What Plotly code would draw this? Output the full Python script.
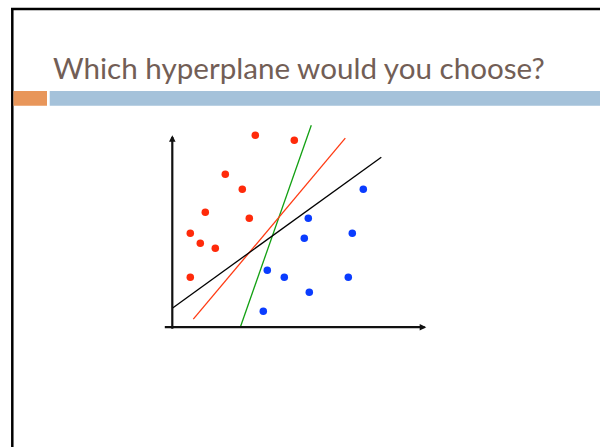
import plotly.graph_objects as go

# Two classes of training points
red_x = [4.15, 6.1, 2.65, 3.5, 1.65, 3.85, 0.9, 1.4, 2.15, 0.9]
red_y = [9.6, 9.35, 7.65, 6.9, 5.75, 5.45, 4.7, 4.2, 3.95, 2.5]
blue_x = [9.55, 6.8, 6.6, 9.0, 4.75, 5.6, 8.8, 6.85, 4.55]
blue_y = [6.9, 5.45, 4.45, 4.7, 2.85, 2.5, 2.5, 1.75, 0.8]

# Candidate separating hyperplanes (segment endpoints)
green_x = [3.4, 6.95]
green_y = [0.0, 10.1]
orange_x = [1.05, 8.65]
orange_y = [0.4, 9.45]
black_x = [0.0, 10.45]
black_y = [0.95, 8.5]

# Axis arrows: (tail, tip)
x_axis = [(-0.45, 0.0), (12.7, 0.0)]
y_axis = [(0.0, -0.15), (0.0, 9.6)]

W, H = 600, 447
ORIGIN_PX = (172.3, 327.2)
UNIT = 20.0  # pixels per data unit

TITLE = "Which hyperplane would you choose?"

fig = go.Figure()

for xs, ys, col in [(green_x, green_y, "#12a012"),
                    (orange_x, orange_y, "#ff3a12"),
                    (black_x, black_y, "#000000")]:
    fig.add_trace(go.Scatter(x=xs, y=ys, mode="lines",
                             line=dict(color=col, width=1.3),
                             hoverinfo="skip", showlegend=False))

fig.add_trace(go.Scatter(x=red_x, y=red_y, mode="markers",
                         marker=dict(color="#ff2a0a", size=7.5, line=dict(width=0)),
                         showlegend=False))
fig.add_trace(go.Scatter(x=blue_x, y=blue_y, mode="markers",
                         marker=dict(color="#0a3cff", size=7.5, line=dict(width=0)),
                         showlegend=False))

for (tx, ty), (hx, hy) in [x_axis, y_axis]:
    fig.add_annotation(x=hx, y=hy, ax=tx, ay=ty, xref="x", yref="y",
                       axref="x", ayref="y", showarrow=True, text="",
                       arrowhead=2, arrowsize=0.6, arrowwidth=2.2,
                       arrowcolor="#111111", standoff=0, startstandoff=0)


def px_x(p):
    return p / W


def px_y(p):
    return 1 - p / H


shapes = [
    # slide frame
    dict(type="line", x0=px_x(11), x1=px_x(600), y0=px_y(9), y1=px_y(9),
         line=dict(color="#000000", width=2.5)),
    dict(type="line", x0=px_x(12.3), x1=px_x(12.3), y0=px_y(8), y1=px_y(447),
         line=dict(color="#000000", width=2.5)),
    # title rule bars
    dict(type="rect", x0=px_x(13.5), x1=px_x(47), y0=px_y(91), y1=px_y(105.7),
         fillcolor="#e8965a", line=dict(width=0)),
    dict(type="rect", x0=px_x(49.7), x1=px_x(600), y0=px_y(91), y1=px_y(105.7),
         fillcolor="#a5c2da", line=dict(width=0)),
]
for s in shapes:
    s.update(xref="paper", yref="paper", layer="below")

fig.add_annotation(text=TITLE, xref="paper", yref="paper",
                   x=px_x(51), y=px_y(68), xanchor="left", yanchor="middle",
                   showarrow=False,
                   font=dict(family="Lato", size=29.6, color="#725e56"))

ox, oy = ORIGIN_PX
fig.update_layout(
    width=W, height=H,
    margin=dict(l=0, r=0, t=0, b=0),
    paper_bgcolor="white", plot_bgcolor="white",
    shapes=shapes,
    xaxis=dict(range=[-ox / UNIT, (W - ox) / UNIT], visible=False, fixedrange=True),
    yaxis=dict(range=[(oy - H) / UNIT, oy / UNIT], visible=False, fixedrange=True),
)

fig.write_html("out.html")
